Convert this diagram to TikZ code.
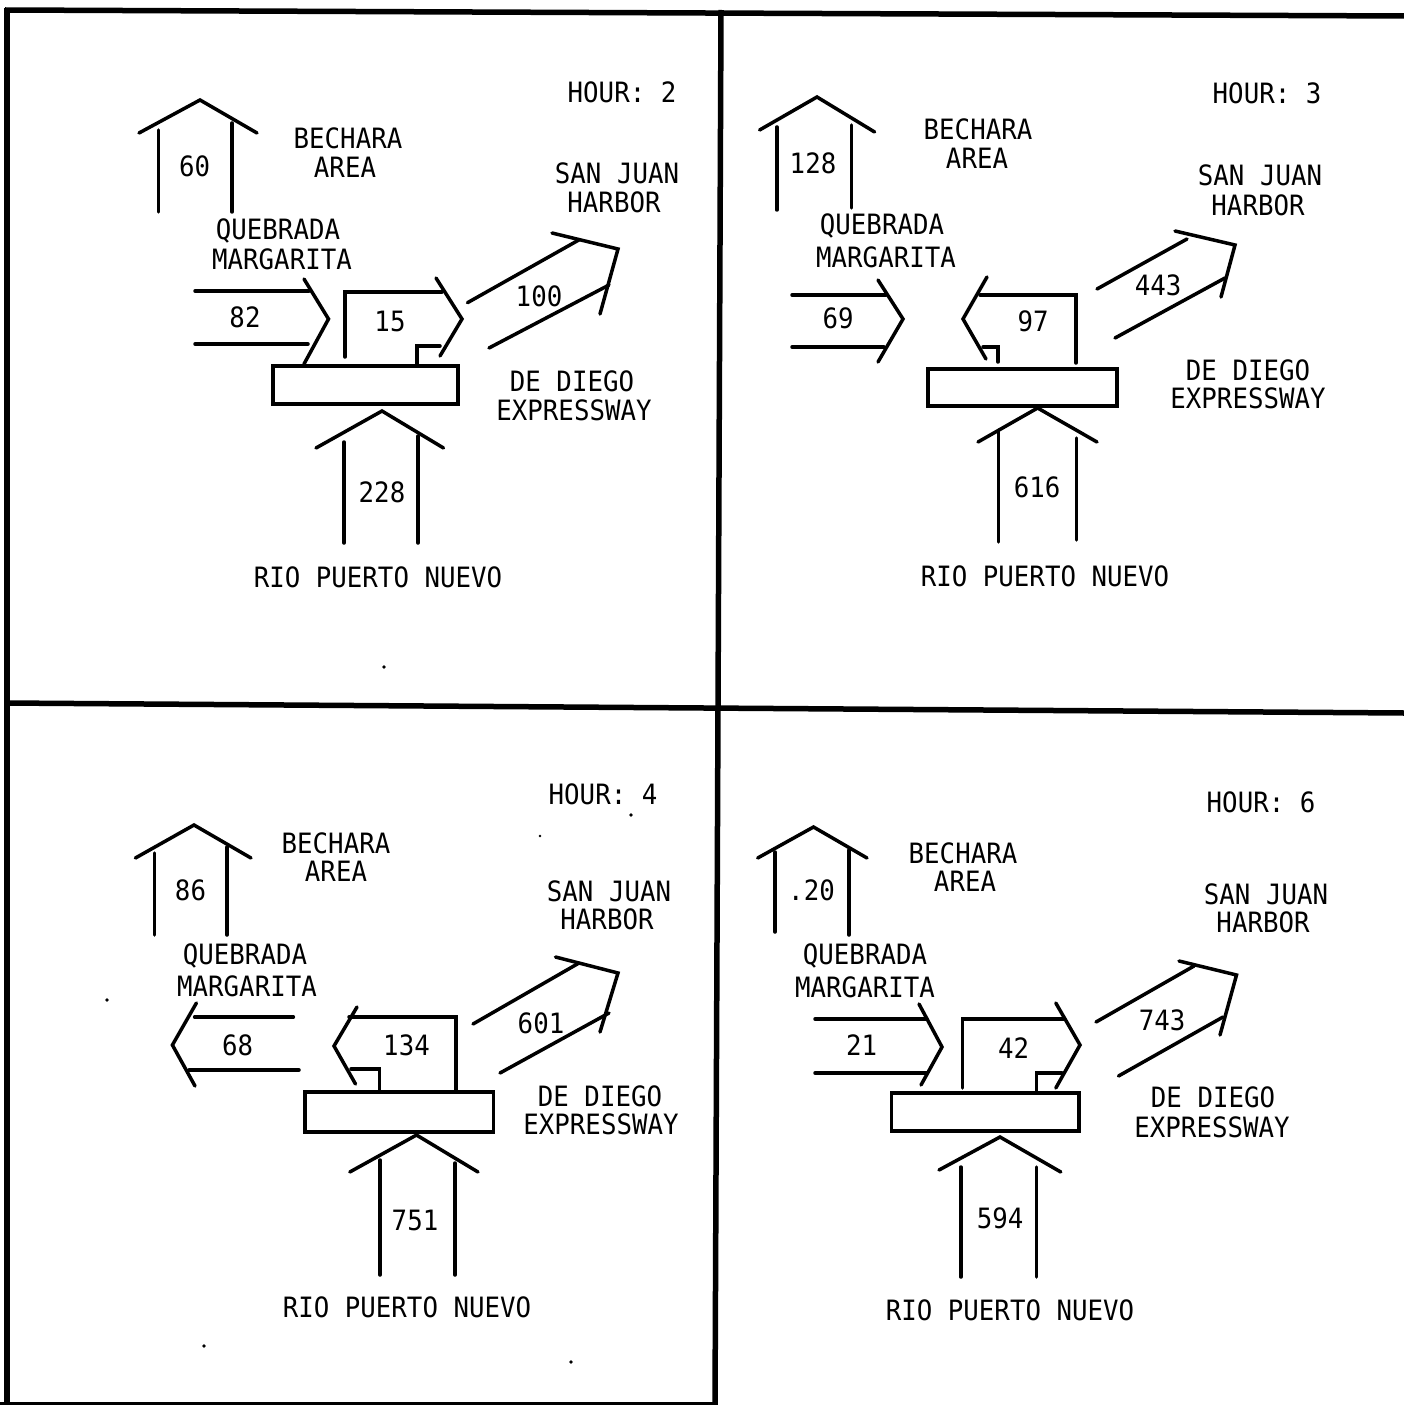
\documentclass[tikz,border=0pt]{standalone}
\usepackage{fontspec}
\newfontfamily\labfont[FakeStretch=0.92]{DejaVu Sans Mono}
\begin{document}
\begin{tikzpicture}[x=1bp,y=-1bp,
  ln/.style={line width=3.5bp,line cap=round,line join=miter},
  fr/.style={line width=5.5bp},
  lbl/.style={font=\labfont\fontsize{28bp}{32bp}\selectfont,inner sep=0pt},
  speck/.style={fill=black}]
\useasboundingbox (0,0) rectangle (1404,1405);
% ---------- frame ----------
\draw[fr] (5,10) -- (1404,16);
\draw[fr] (7,8) -- (7,1405);
\draw[fr] (721,10) -- (715,1405);
\draw[fr] (5,703) -- (1404,713);
\draw[line width=3bp] (0,1403) -- (715,1403);

% ================= PANEL HOUR 2 =================
\node[lbl] (h2) at (622,92) {HOUR: 2};
\coordinate (a2l) at (139,133); \coordinate (a2t) at (200,100); \coordinate (a2r) at (257,133);
\draw[ln] (a2l) -- (a2t) -- (a2r);
\draw[ln] (158.7,130) -- (158.7,212);
\draw[ln] (232,123) -- (232,212);
\node[lbl] (n60) at (194.6,166) {60};
\node[lbl] (b2a) at (348,138) {BECHARA};
\node[lbl] (b2b) at (345,167) {AREA};
\node[lbl] (s2a) at (617,173) {SAN JUAN};
\node[lbl] (s2b) at (614,202) {HARBOR};
\node[lbl] (q2a) at (278,231) {QUEBRADA};
\node[lbl] (q2b) at (282,259) {MARGARITA};
\draw[ln] (195,291) -- (309,291);
\draw[ln] (195,344) -- (308,344);
\draw[ln] (304,279) -- (328.5,319) -- (304,364);
\node[lbl] (n82) at (245,317) {82};
\draw[ln] (345,357) -- (345,292) -- (442,292);
\draw[ln] (436,278) -- (462,319) -- (440,356);
\draw[ln] (417,366) -- (417,346) -- (440,346);
\node[lbl] (n15) at (390,321) {15};
\draw[ln] (273,366) rectangle (458,404);
\draw[ln] (316,448) -- (382,411) -- (443.5,448);
\draw[ln] (344,442) -- (344,543);
\draw[ln] (418,436) -- (418,543);
\node[lbl] (n228) at (382,492) {228};
\node[lbl] (r2) at (378,577) {RIO PUERTO NUEVO};
\draw[ln] (467.5,302.7) -- (578.8,240);
\draw[ln] (552,233) -- (618,249) -- (600,314);
\draw[ln] (489,348) -- (609,285);
\node[lbl] (n100) at (539,296) {100};
\node[lbl] (d2a) at (572,381) {DE DIEGO};
\node[lbl] (d2b) at (574,410) {EXPRESSWAY};
\fill[speck] (384,667) circle (1.8);

% ================= PANEL HOUR 3 =================
\node[lbl] (h3) at (1267,93) {HOUR: 3};
\draw[ln] (759.6,130) -- (817,97) -- (874.6,132);
\draw[ln] (776.8,127) -- (776.8,210);
\draw[ln] (851.6,125) -- (851.6,208);
\node[lbl] (n128) at (813,163) {128};
\node[lbl] (b3a) at (978,129) {BECHARA};
\node[lbl] (b3b) at (977,158) {AREA};
\node[lbl] (s3a) at (1260,175) {SAN JUAN};
\node[lbl] (s3b) at (1258,205) {HARBOR};
\node[lbl] (q3a) at (882,226) {QUEBRADA};
\node[lbl] (q3b) at (886,257) {MARGARITA};
\draw[ln] (792,295) -- (886,295);
\draw[ln] (792,347) -- (884,347);
\draw[ln] (878,280) -- (903,319) -- (878,362);
\node[lbl] (n69) at (838,318) {69};
\draw[ln] (1076,363) -- (1076,295) -- (980,295);
\draw[ln] (987,277) -- (963,319) -- (986,359);
\draw[ln] (983,347) -- (998,347) -- (998,362);
\node[lbl] (n97) at (1033,321) {97};
\draw[ln] (928,369) rectangle (1117,406);
\draw[ln] (978,442) -- (1037.6,408) -- (1097,442);
\draw[ln] (998.5,430) -- (998.5,542);
\draw[ln] (1076.7,438) -- (1076.7,540);
\node[lbl] (n616) at (1037,487) {616};
\node[lbl] (r3) at (1045,576) {RIO PUERTO NUEVO};
\draw[ln] (1097,289) -- (1187,239);
\draw[ln] (1175,231) -- (1235,245) -- (1221,297);
\draw[ln] (1115,338) -- (1225,278);
\node[lbl] (n443) at (1158,285) {443};
\node[lbl] (d3a) at (1248,370) {DE DIEGO};
\node[lbl] (d3b) at (1248,398) {EXPRESSWAY};

% ================= PANEL HOUR 4 =================
\node[lbl] (h4) at (603,794) {HOUR: 4};
\draw[ln] (135.4,858) -- (194,825) -- (251,858);
\draw[ln] (154.4,853) -- (154.4,935);
\draw[ln] (227,847) -- (227,935);
\node[lbl] (n86) at (190.5,890) {86};
\node[lbl] (b4a) at (336,843) {BECHARA};
\node[lbl] (b4b) at (336,871) {AREA};
\node[lbl] (s4a) at (609,891) {SAN JUAN};
\node[lbl] (s4b) at (607,919) {HARBOR};
\node[lbl] (q4a) at (245,956) {QUEBRADA};
\node[lbl] (q4b) at (247,986) {MARGARITA};
\draw[ln] (194.6,1017) -- (293.4,1017);
\draw[ln] (189,1070) -- (299,1070);
\draw[ln] (196.4,1003) -- (172.4,1045) -- (195,1086);
\node[lbl] (n68) at (237.7,1045) {68};
\draw[ln] (456,1090) -- (456,1017) -- (349,1017);
\draw[ln] (357,1007) -- (334,1046) -- (355.5,1084);
\draw[ln] (351,1069) -- (379.5,1069) -- (379.5,1092);
\node[lbl] (n134) at (406.5,1045) {134};
\draw[ln] (305,1092) rectangle (493.7,1132);
\draw[ln] (349.8,1172) -- (416.5,1135) -- (478,1172);
\draw[ln] (380,1160) -- (380,1275);
\draw[ln] (455,1163) -- (455,1275);
\node[lbl] (n751) at (415,1220) {751};
\node[lbl] (r4) at (407,1307) {RIO PUERTO NUEVO};
\draw[ln] (473,1024) -- (579,963);
\draw[ln] (555.5,957) -- (618,973) -- (600,1032);
\draw[ln] (500,1073) -- (609,1013);
\node[lbl] (n601) at (541,1023) {601};
\node[lbl] (d4a) at (600,1096) {DE DIEGO};
\node[lbl] (d4b) at (601,1124) {EXPRESSWAY};
\fill[speck] (631,815) circle (1.8);
\fill[speck] (540,836) circle (1.3);
\fill[speck] (107,1000) circle (1.8);
\fill[speck] (204,1346) circle (1.8);
\fill[speck] (571,1362) circle (1.8);

% ================= PANEL HOUR 6 =================
\node[lbl] (h6) at (1261,802) {HOUR: 6};
\draw[ln] (757.7,858) -- (813.5,827) -- (867,858);
\draw[ln] (775,852) -- (775,932);
\draw[ln] (849,850) -- (849,935);
\node[lbl] (n20) at (811.5,890) {.20};
\node[lbl] (b6a) at (963,853) {BECHARA};
\node[lbl] (b6b) at (965,881) {AREA};
\node[lbl] (s6a) at (1266,894) {SAN JUAN};
\node[lbl] (s6b) at (1263,922) {HARBOR};
\node[lbl] (q6a) at (865,956) {QUEBRADA};
\node[lbl] (q6b) at (865,987) {MARGARITA};
\draw[ln] (815,1019) -- (927,1019);
\draw[ln] (815,1073) -- (927,1073);
\draw[ln] (919,1004) -- (942,1047) -- (921,1085);
\node[lbl] (n21) at (861.5,1045) {21};
\draw[ln] (962.7,1088) -- (962.7,1019) -- (1063.5,1019);
\draw[ln] (1055.8,1003) -- (1080,1045) -- (1055.8,1088);
\draw[ln] (1036.5,1093) -- (1036.5,1073) -- (1062,1073);
\node[lbl] (n42) at (1013.5,1048) {42};
\draw[ln] (891.5,1093) rectangle (1079,1131);
\draw[ln] (939,1170) -- (1000,1137) -- (1060.8,1172);
\draw[ln] (960.8,1167) -- (960.8,1277);
\draw[ln] (1036.5,1167) -- (1036.5,1277);
\node[lbl] (n594) at (1000,1218) {594};
\node[lbl] (r6) at (1010,1310) {RIO PUERTO NUEVO};
\draw[ln] (1096,1022) -- (1194,966);
\draw[ln] (1179,961) -- (1236.5,975) -- (1220,1035);
\draw[ln] (1118.5,1076) -- (1223,1017);
\node[lbl] (n743) at (1162,1020) {743};
\node[lbl] (d6a) at (1213,1097) {DE DIEGO};
\node[lbl] (d6b) at (1212,1127) {EXPRESSWAY};
\end{tikzpicture}
\end{document}
